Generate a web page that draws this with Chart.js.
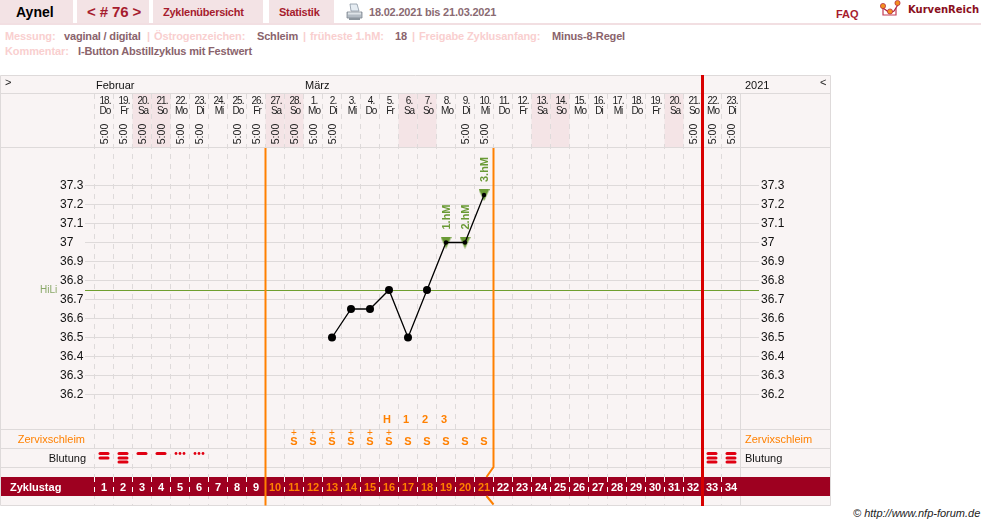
<!DOCTYPE html>
<html lang="de">
<head>
<meta charset="utf-8">
<title>Aynel Zyklus 76</title>
<script src="https://cdn.jsdelivr.net/npm/chart.js@4"></script>
<style>
    html, body { margin: 0; padding: 0; background: #fff; overflow: hidden; }
    body { width: 981px; height: 525px; position: relative; font-family: "Liberation Sans", Arial, sans-serif; }
    #curve { position: absolute; left: 0; top: 0; }
    .tab { position: absolute; top: 0; height: 23px; background: #f3e3e5; }
    .rule { position: absolute; left: 0; top: 23px; width: 981px; height: 2px; background: #f2dfe2; }
    .t { position: absolute; white-space: nowrap; line-height: 14px; font-size: 11px; font-weight: bold; }
    .lab { color: #f9cfcf; letter-spacing: -0.1px; }
    .val { color: #8a636c; letter-spacing: -0.17px; }
    .nav { color: #a61c2e; letter-spacing: -0.25px; }
    svg { position: absolute; }
</style>
</head>
<body>
<div class="tab" style="left:0;width:73px"></div>
<div class="tab" style="left:77px;width:72px"></div>
<div class="tab" style="left:153px;width:110px"></div>
<div class="tab" style="left:269px;width:65px"></div>
<div class="rule"></div>
<span class="t" style="left:16px;top:5px;font-size:14px;color:#000">Aynel</span>
<span class="t" style="left:87px;top:5px;font-size:15px;color:#a61c2e;letter-spacing:-0.1px">&lt; # 76 &gt;</span>
<span class="t nav" style="left:163px;top:5px">Zyklenübersicht</span>
<span class="t nav" style="left:279px;top:5px">Statistik</span>
<svg style="left:346px;top:3px" width="17" height="18" viewBox="0 0 17 18">
    <path d="M4 1h7l2 7H5z" fill="#e6edf3" stroke="#8a97a3" stroke-width="0.8"/>
    <path d="M1 9h15v6H1z" fill="#b4bcc4" stroke="#7d8790" stroke-width="0.8"/>
    <path d="M3 15h11v2H3z" fill="#8c959d"/>
    <path d="M2 9.5h13v2H2z" fill="#dfe4e8"/>
</svg>
<span class="t" style="left:369px;top:5px;color:#8a6a72;letter-spacing:-0.2px">18.02.2021 bis 21.03.2021</span>
<span class="t" style="left:836px;top:7px;color:#a61c2e">FAQ</span>
<svg style="left:880px;top:0" width="22" height="20" viewBox="0 0 22 20">
    <path d="M3 8v7h13V8" fill="none" stroke="#c23a55" stroke-width="1.2"/>
    <path d="M3 8l7 5 4-2 5-8" fill="none" stroke="#b02040" stroke-width="1.2"/>
    <circle cx="3" cy="6" r="2.6" fill="#f29020" stroke="#b02040" stroke-width="0.7"/>
    <circle cx="10" cy="11.5" r="2.6" fill="#f29020" stroke="#b02040" stroke-width="0.7"/>
    <circle cx="17.5" cy="3" r="2.6" fill="#f29020" stroke="#b02040" stroke-width="0.7"/>
</svg>
<span class="t" style="left:908px;top:3px;font-family:'DejaVu Sans';font-size:10px;color:#8a0f20">KurvenReich</span>

<span class="t lab" style="left:5px;top:29px">Messung:</span>
<span class="t val" style="left:64px;top:29px">vaginal / digital</span>
<span class="t lab" style="left:147px;top:29px">|</span>
<span class="t lab" style="left:154px;top:29px">Östrogenzeichen:</span>
<span class="t val" style="left:257px;top:29px">Schleim</span>
<span class="t lab" style="left:303px;top:29px">|</span>
<span class="t lab" style="left:310px;top:29px">früheste 1.hM:</span>
<span class="t val" style="left:395px;top:29px">18</span>
<span class="t lab" style="left:412px;top:29px">|</span>
<span class="t lab" style="left:419px;top:29px">Freigabe Zyklusanfang:</span>
<span class="t val" style="left:552px;top:29px">Minus-8-Regel</span>
<span class="t lab" style="left:5px;top:44px">Kommentar:</span>
<span class="t val" style="left:78px;top:44px">I-Button Abstillzyklus mit Festwert</span>
<span class="t" style="left:853px;top:506px;font-weight:normal;font-style:italic;font-size:11px;color:#222">© http://www.nfp-forum.de</span>

<canvas id="curve" width="981" height="525"></canvas>

<script>
const cycleDays = ['1','2','3','4','5','6','7','8','9','10','11','12','13','14','15','16','17','18','19','20','21','22','23','24','25','26','27','28','29','30','31','32','33','34'];
const dates = ['18.','19.','20.','21.','22.','23.','24.','25.','26.','27.','28.','1.','2.','3.','4.','5.','6.','7.','8.','9.','10.','11.','12.','13.','14.','15.','16.','17.','18.','19.','20.','21.','22.','23.'];
const weekdays = ['Do','Fr','Sa','So','Mo','Di','Mi','Do','Fr','Sa','So','Mo','Di','Mi','Do','Fr','Sa','So','Mo','Di','Mi','Do','Fr','Sa','So','Mo','Di','Mi','Do','Fr','Sa','So','Mo','Di'];
const shadedDays = ['3','4','10','11','17','18','24','25','31'];
const times = ['5:00','5:00','5:00','5:00','5:00','5:00',null,'5:00','5:00','5:00','5:00','5:00','5:00',null,null,null,null,null,null,'5:00','5:00',null,null,null,null,null,null,null,null,null,null,'5:00','5:00','5:00'];
const months = [['Februar', 96], ['März', 305]];

const temps = [null,null,null,null,null,null,null,null,null,null,null,null,36.5,36.65,36.65,36.75,36.5,36.75,37,37,37.25,null,null,null,null,null,null,null,null,null,null,null,null,null];
const hochlagen = [null,null,null,null,null,null,null,null,null,null,null,null,null,null,null,null,null,null,37,37,37.25,null,null,null,null,null,null,null,null,null,null,null,null,null];
const hmLabels = [['19', '1.hM'], ['20', '2.hM'], ['21', '3.hM']];
const tempTicks = [37.3,37.2,37.1,37,36.9,36.8,36.7,36.6,36.5,36.4,36.3,36.2];
const hiLi = 36.75;

// 0 none, 1 one bar, 2 two bars, 3 three bars, 4 dots
const bleeding = [2,3,1,1,4,4,0,0,0,0,0,0,0,0,0,0,0,0,0,0,0,0,0,0,0,0,0,0,0,0,0,0,3,3];
const mucus = ['','','','','','','','','','','S+','S+','S+','S+','S+','S+','S','S','S','S','S','','','','','','','','','','','','',''];
const peakMarks = [['16','H'], ['17','1'], ['18','2'], ['19','3']];

const firstPhaseEnd = '9';
const secondPhaseEnd = '21';
const periodStart = '33';

const FONT = '"Liberation Sans", Arial, sans-serif';
const GRID = '#dedada';
const ORANGE = '#ff8000';
const GREEN = '#6a9a35';
const CRIMSON = '#9e0020';
const TABLE_L = 0.5, TABLE_R = 830.5, TABLE_T = 75.5, TABLE_B = 505.5;
const TEMP_MIN = 35.6184, TEMP_MAX = 37.7816;

function hline(ctx, x1, x2, y, color) {
    ctx.strokeStyle = color;
    ctx.lineWidth = 1;
    ctx.beginPath();
    ctx.moveTo(x1, y);
    ctx.lineTo(x2, y);
    ctx.stroke();
}

function txt(ctx, s, x, y, font, color, align) {
    ctx.font = font + ' ' + FONT;
    ctx.fillStyle = color;
    ctx.textAlign = align || 'left';
    ctx.textBaseline = 'middle';
    ctx.fillText(s, x, y);
}

function bar(ctx, cx, y) {
    ctx.beginPath();
    ctx.roundRect(cx - 5.5, y - 1.5, 11, 3, 1.5);
    ctx.fill();
}

function colEdge(xs, day, side) {
    return xs.getPixelForValue(day) + side * (xs.getPixelForValue('2') - xs.getPixelForValue('1')) / 2;
}

// marker for the three high days, a bit taller than the built-in triangle
function hmMarker() {
    const c = document.createElement('canvas');
    c.width = 11;
    c.height = 12;
    const g = c.getContext('2d');
    g.fillStyle = GREEN;
    g.beginPath();
    g.moveTo(0, 0);
    g.lineTo(11, 0);
    g.lineTo(5.5, 12);
    g.closePath();
    g.fill();
    return c;
}

// table background, header rows, weekend shading
const tableBack = {
    id: 'tableBack',
    beforeDraw(chart) {
        const ctx = chart.ctx, xs = chart.scales.x;
        ctx.save();
        ctx.fillStyle = '#f9f4f4';
        ctx.fillRect(TABLE_L, TABLE_T, TABLE_R - TABLE_L, TABLE_B - TABLE_T);
        ctx.fillStyle = '#f4e4e6';
        shadedDays.forEach(d => {
            const l = colEdge(xs, d, -1), r = colEdge(xs, d, 1);
            ctx.fillRect(l, 94, r - l, 53);
        });
        [TABLE_T, 93.5, 147.5, 429.5, 448.5, 467.5, TABLE_B].forEach(y => hline(ctx, TABLE_L, TABLE_R, y, GRID));
        ctx.strokeStyle = GRID;
        ctx.lineWidth = 1;
        ctx.beginPath();
        ctx.moveTo(TABLE_L, TABLE_T); ctx.lineTo(TABLE_L, TABLE_B);
        ctx.moveTo(TABLE_R, TABLE_T); ctx.lineTo(TABLE_R, TABLE_B);
        ctx.stroke();
        ctx.restore();
    }
};

// cycle day band, phase lines, row contents
const cycleRows = {
    id: 'cycleRows',
    beforeDatasetsDraw(chart) {
        const ctx = chart.ctx, xs = chart.scales.x, ys = chart.scales.y, area = chart.chartArea;
        ctx.save();

        ctx.fillStyle = CRIMSON;
        ctx.fillRect(1, 477, 829, 19);
        ctx.strokeStyle = '#fff';
        ctx.lineWidth = 1;
        ctx.setLineDash([5, 5]);
        ctx.beginPath();
        cycleDays.forEach(d => {
            const x = colEdge(xs, d, -1);
            ctx.moveTo(x, 477);
            ctx.lineTo(x, 496);
        });
        ctx.stroke();
        ctx.setLineDash([]);

        // solid divider of the right-hand column
        ctx.strokeStyle = GRID;
        ctx.lineWidth = 1;
        ctx.beginPath();
        ctx.moveTo(area.right, 94);
        ctx.lineTo(area.right, 477);
        ctx.moveTo(area.right, 496);
        ctx.lineTo(area.right, TABLE_B);
        ctx.stroke();

        // high level line
        const hy = Math.floor(ys.getPixelForValue(hiLi)) + 0.5;
        ctx.strokeStyle = '#6f9f30';
        ctx.lineWidth = 1;
        ctx.beginPath();
        ctx.moveTo(85, hy);
        ctx.lineTo(759, hy);
        ctx.stroke();

        // phase borders
        ctx.strokeStyle = ORANGE;
        ctx.lineWidth = 2;
        const x1 = colEdge(xs, firstPhaseEnd, 1);
        const x2 = colEdge(xs, secondPhaseEnd, 1);
        ctx.beginPath();
        ctx.moveTo(x1, 148); ctx.lineTo(x1, TABLE_B);
        ctx.moveTo(x2, 148); ctx.lineTo(x2, 467);
        ctx.lineTo(x2 - 7, 477);
        ctx.moveTo(x2 - 7, 496);
        ctx.lineTo(x2, TABLE_B - 1);
        ctx.stroke();

        // header texts
        txt(ctx, '>', 5, 83, '11px', '#222');
        months.forEach(m => txt(ctx, m[0], m[1], 86, '11px', '#111'));
        txt(ctx, '2021', 745, 86, '11px', '#111');
        txt(ctx, '<', 820, 83, '11px', '#222');
        cycleDays.forEach((d, i) => {
            const x = xs.getPixelForValue(d) + 1;
            ctx.letterSpacing = '-1px';
            txt(ctx, dates[i], x, 101, '10px', '#222', 'center');
            txt(ctx, weekdays[i], x, 111, '10px', '#222', 'center');
            ctx.letterSpacing = '0px';
            if (times[i]) {
                ctx.save();
                ctx.translate(x, 134);
                ctx.rotate(-Math.PI / 2);
                txt(ctx, times[i], 0, 0, '10.5px', '#222', 'center');
                ctx.restore();
            }
        });

        // row captions
        txt(ctx, 'HiLi', 40, hy, '10px', '#8aa868');
        txt(ctx, 'Zervixschleim', 85, 440, '11px', ORANGE, 'right');
        txt(ctx, 'Blutung', 86, 459, '11px', '#111', 'right');
        txt(ctx, 'Zervixschleim', 745, 440, '11px', ORANGE);
        txt(ctx, 'Blutung', 745, 459, '11px', '#111');
        txt(ctx, 'Zyklustag', 10, 487.5, 'bold 11px', '#fff');

        peakMarks.forEach(p => txt(ctx, p[1], xs.getPixelForValue(p[0]) - 2, 420, 'bold 11px', ORANGE, 'center'));

        cycleDays.forEach((d, i) => {
            const x = xs.getPixelForValue(d);
            const inPhase = i >= 9 && i <= 20;
            txt(ctx, d, x, 487.5, 'bold 11px', inPhase ? ORANGE : '#fff', 'center');

            if (mucus[i]) {
                txt(ctx, 'S', x, 441.5, 'bold 11px', ORANGE, 'center');
                if (mucus[i].endsWith('+')) txt(ctx, '+', x, 433, '10px', ORANGE, 'center');
            }

            ctx.fillStyle = '#e00012';
            const b = bleeding[i];
            if (b >= 1 && b <= 3) {
                bar(ctx, x, 453.5);
                if (b >= 2) bar(ctx, x, 458);
                if (b >= 3) bar(ctx, x, 462);
            } else if (b === 4) {
                [-4, 0, 4].forEach(o => {
                    ctx.beginPath();
                    ctx.arc(x + o, 453.5, 1.4, 0, Math.PI * 2);
                    ctx.fill();
                });
            }
        });
        ctx.restore();
    },
    afterDatasetsDraw(chart) {
        const ctx = chart.ctx, xs = chart.scales.x, ys = chart.scales.y;
        ctx.save();
        hmLabels.forEach(h => {
            const i = cycleDays.indexOf(h[0]);
            ctx.save();
            ctx.translate(xs.getPixelForValue(h[0]) + 1, ys.getPixelForValue(temps[i]) - 25.5);
            ctx.rotate(-Math.PI / 2);
            txt(ctx, h[1], 0, 0, 'bold 11px', GREEN, 'center');
            ctx.restore();
        });
        const xr = colEdge(xs, periodStart, -1);
        ctx.fillStyle = '#d80000';
        ctx.fillRect(xr - 1.5, 75, 3, 431);
        ctx.restore();
    }
};

function keepTempTicks(scale) {
    scale.ticks = tempTicks.map(v => ({ value: v }));
}

new Chart(document.getElementById('curve').getContext('2d'), {
    type: 'line',
    data: {
        labels: cycleDays,
        datasets: [{
            data: temps,
            borderColor: '#000',
            borderWidth: 1.3,
            tension: 0,
            pointBackgroundColor: '#000',
            pointBorderWidth: 0,
            pointRadius: c => hochlagen[c.dataIndex] != null ? 2.2 : 4
        }, {
            data: hochlagen,
            showLine: false,
            pointStyle: hmMarker(),
            pointRadius: 6,
            pointBorderWidth: 0
        }]
    },
    options: {
        responsive: false,
        animation: false,
        events: [],
        layout: { padding: { left: 60, right: 196, top: 94, bottom: 20 } },
        plugins: { legend: { display: false }, tooltip: { enabled: false } },
        scales: {
            x: {
                offset: true,
                grid: { offset: true, color: GRID, lineWidth: 1, drawTicks: false },
                border: { display: false, dash: [5, 5] },
                ticks: { display: false }
            },
            y: {
                position: 'left',
                min: TEMP_MIN,
                max: TEMP_MAX,
                afterBuildTicks: keepTempTicks,
                afterFit: s => { s.width = 34.5; },
                border: { display: false },
                grid: { color: GRID, lineWidth: 1, tickLength: 9.5 },
                ticks: {
                    crossAlign: 'far',
                    padding: 0,
                    color: '#111',
                    font: { family: FONT, size: 12 },
                    callback: v => String(v)
                }
            },
            yRight: {
                position: 'right',
                min: TEMP_MIN,
                max: TEMP_MAX,
                afterBuildTicks: keepTempTicks,
                afterFit: s => { s.width = 44.5; },
                border: { display: false },
                grid: { drawOnChartArea: false, color: GRID, lineWidth: 1, tickLength: 18.5 },
                ticks: {
                    padding: 2,
                    color: '#111',
                    font: { family: FONT, size: 12 },
                    callback: v => String(v)
                }
            }
        }
    },
    plugins: [tableBack, cycleRows]
});
</script>
</body>
</html>
